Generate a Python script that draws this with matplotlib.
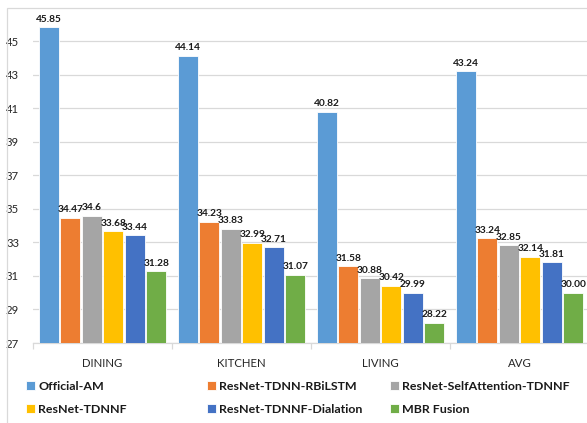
import matplotlib.pyplot as plt
from matplotlib.patches import Rectangle
import numpy as np

plt.rcParams['font.family'] = ['Lato', 'DejaVu Sans']

# data
categories = ['DINING', 'KITCHEN', 'LIVING', 'AVG']
series_names = ['Official-AM', 'ResNet-TDNN-RBiLSTM', 'ResNet-SelfAttention-TDNNF',
                'ResNet-TDNNF', 'ResNet-TDNNF-Dialation', 'MBR Fusion']
official_am = [45.85, 44.14, 40.82, 43.24]
rbilstm = [34.47, 34.23, 31.58, 33.24]
selfattn = [34.6, 33.83, 30.88, 32.85]
tdnnf = [33.68, 32.99, 30.42, 32.14]
dialation = [33.44, 32.71, 29.99, 31.81]
mbr_fusion = [31.28, 31.07, 28.22, 30.00]
value_labels = [
    ['45.85', '44.14', '40.82', '43.24'],
    ['34.47', '34.23', '31.58', '33.24'],
    ['34.6', '33.83', '30.88', '32.85'],
    ['33.68', '32.99', '30.42', '32.14'],
    ['33.44', '32.71', '29.99', '31.81'],
    ['31.28', '31.07', '28.22', '30.00'],
]
yticks = [27, 29, 31, 33, 35, 37, 39, 41, 43, 45]

colors = ['#5B9BD5', '#ED7D31', '#A5A5A5', '#FFC000', '#4472C4', '#70AD47']
grid_color = '#D9D9D9'

W, H = 587, 423
fig = plt.figure(figsize=(W / 100, H / 100), dpi=100)
fig.patch.set_facecolor('white')

# chart border (cropped on right/bottom in reference)
fig.add_artist(Rectangle((7 / W, -0.05), 1.2, 1 - 8 / H + 0.05,
                         transform=fig.transFigure, fill=False,
                         edgecolor=grid_color, linewidth=0.9))

ax = fig.add_axes([33 / W, 1 - 343 / H, 556 / W, (343 - 8) / H])

all_series = [official_am, rbilstm, selfattn, tdnnf, dialation, mbr_fusion]
x = np.arange(len(categories))
pitch = 0.1547
bar_w = 0.142
bars = []
for i, vals in enumerate(all_series):
    b = ax.bar(x + (i - 2.5) * pitch, np.array(vals) - 27, bar_w, bottom=27,
               color=colors[i], edgecolor='white', linewidth=0.6,
               label=series_names[i], zorder=3)
    bars.append(b)
    for rect, lab in zip(b, value_labels[i]):
        ax.annotate(lab, (rect.get_x() + rect.get_width() / 2, rect.get_y() + rect.get_height()),
                    xytext=(0, 2.5), textcoords='offset points', ha='center', va='bottom',
                    fontsize=7.3, fontweight='bold', color='#1a1a1a', zorder=4)

ax.set_xlim(-0.5, 3.5)
ax.set_ylim(27, 47)
ax.set_yticks(yticks)
ax.set_yticklabels([str(t) for t in yticks])
ax.yaxis.grid(True, color=grid_color, linewidth=0.9, zorder=0)
ax.set_axisbelow(True)
for s in ['top', 'right', 'left']:
    ax.spines[s].set_visible(False)
ax.spines['bottom'].set_color(grid_color)
ax.spines['bottom'].set_linewidth(0.9)

ax.set_xticks(x)
ax.set_xticklabels(categories)
ax.set_xticks(np.arange(-0.5, 4.0, 1.0), minor=True)
ax.tick_params(axis='x', which='major', length=0, pad=11, labelsize=8.2, labelcolor='#262626')
ax.tick_params(axis='x', which='minor', length=4, color=grid_color, width=0.9)
ax.tick_params(axis='y', length=0, pad=10, labelsize=8.2, labelcolor='#262626')

# legend: three columns at fixed positions
col_x = [26 / W, 207 / W, 390 / W]
for c in range(3):
    leg = fig.legend([bars[c], bars[c + 3]], [series_names[c], series_names[c + 3]],
                     loc='upper left', bbox_to_anchor=(col_x[c], 1 - 381 / H),
                     frameon=False, ncol=1, borderpad=0, borderaxespad=0,
                     handlelength=0.7, handleheight=0.7, handletextpad=0.3,
                     labelspacing=0.95, prop={'size': 8.9, 'weight': 'bold'})
    for t in leg.get_texts():
        t.set_color('#1a1a1a')

fig.savefig('out.png', dpi=100, facecolor='white')
